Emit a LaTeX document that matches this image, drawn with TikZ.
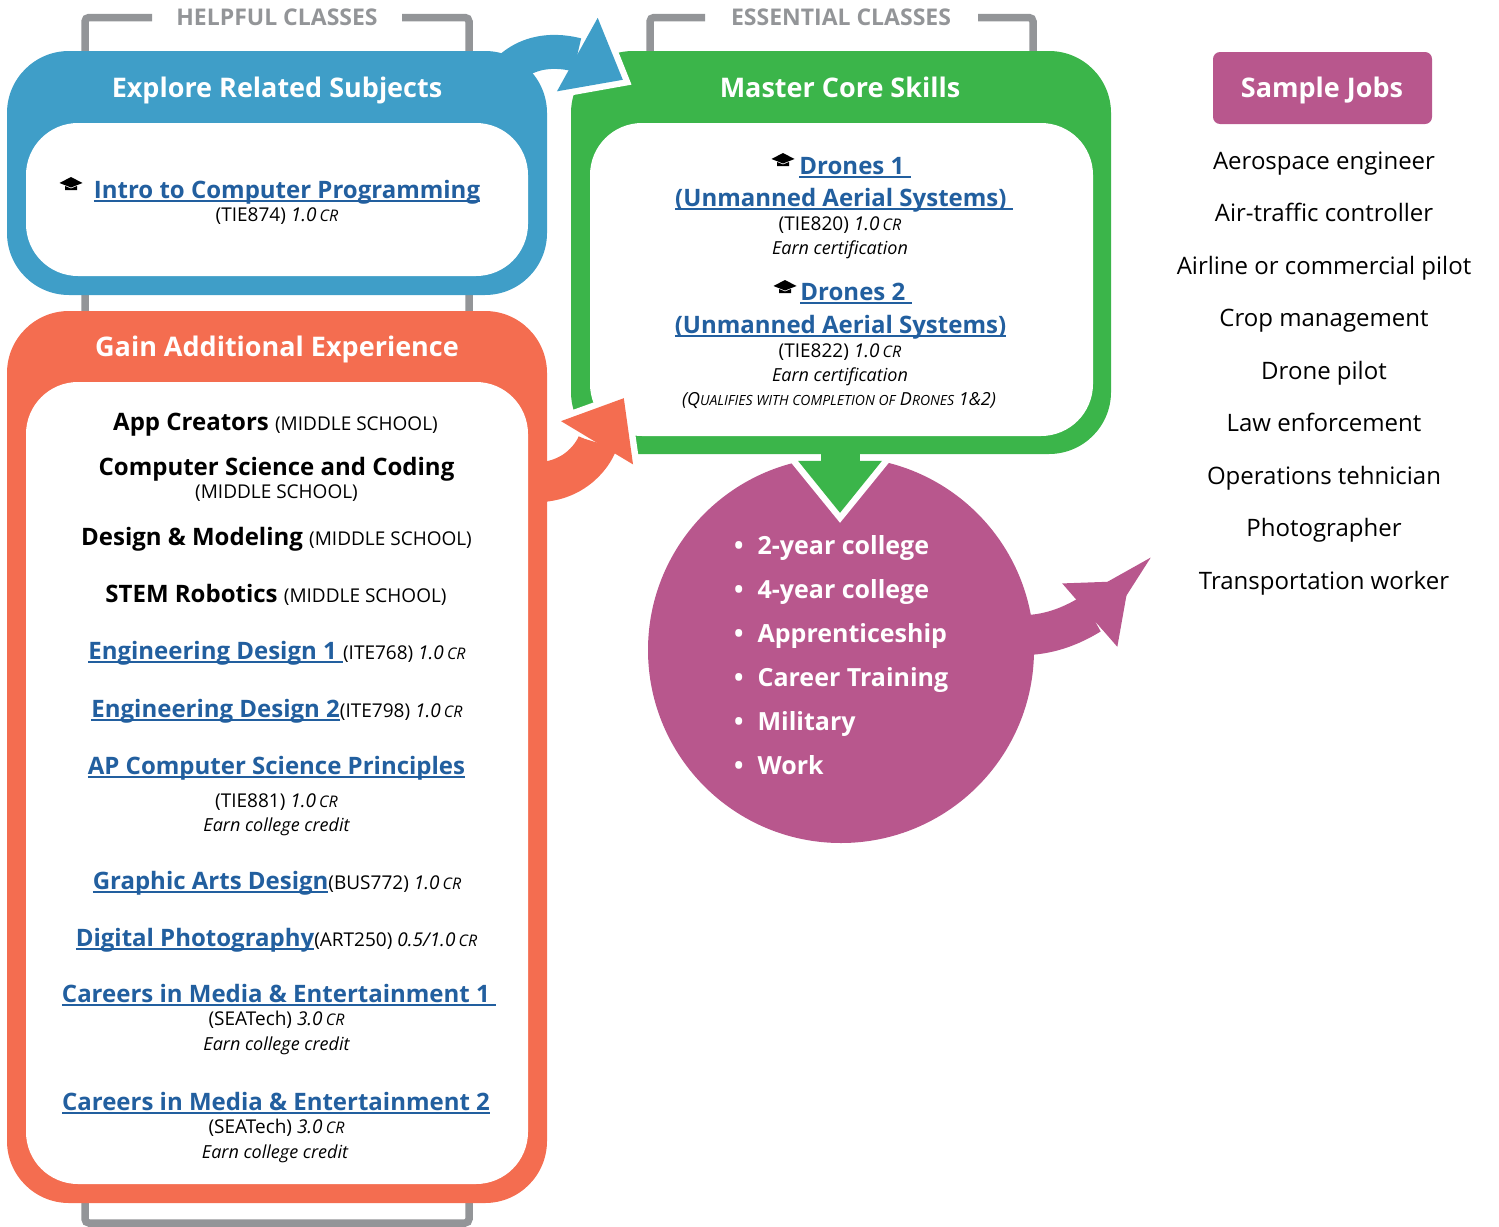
\documentclass[tikz,border=0pt]{standalone}
\usepackage{fontspec}
\setmainfont{Open Sans}
\usetikzlibrary{arrows.meta}

\definecolor{exploreblue}{HTML}{3F9EC8}
\definecolor{coregreen}{HTML}{3BB54A}
\definecolor{gainorange}{HTML}{F46D50}
\definecolor{pathpurple}{HTML}{B8578D}
\definecolor{bracketgrey}{HTML}{939598}
\definecolor{linkblue}{HTML}{225F9F}

\newcommand{\fs}[1]{\fontsize{#1}{#1}\selectfont}
\newcommand{\courselink}[1]{\setbox0=\hbox{#1}\rlap{\color{linkblue}\rule[-4pt]{\wd0}{1.6pt}}\box0}
\newcommand{\credit}[1]{{\itshape #1\,{\fs{16}CR}}}

\begin{document}
\begin{tikzpicture}
[x=1pt,y=-1pt,
bracket/.style={draw=bracketgrey,line width=7.5pt,rounded corners=4pt},
bracketlabel/.style={anchor=base,inner sep=0pt,text=bracketgrey,font=\fs{23}\bfseries},
ring/.style={rectangle,inner sep=0pt,rounded corners=62pt},
core/.style={rectangle,inner sep=0pt,fill=white,rounded corners=52pt},
title/.style={anchor=base,inner sep=0pt,text=white,font=\fs{27}\bfseries},
course/.style={anchor=base,inner sep=0pt,font=\fs{24}\bfseries,text=linkblue},
plain/.style={anchor=base,inner sep=0pt,font=\fs{24}\bfseries},
small/.style={anchor=base,inner sep=0pt,font=\fs{19}},
note/.style={anchor=base,inner sep=0pt,font=\fs{18}\itshape},
route/.style={anchor=base west,inner sep=0pt,text=white,font=\fs{25}\bfseries},
job/.style={anchor=base,inner sep=0pt,font=\fs{24}},
flow/.style={line width=40pt,-{Triangle[length=52pt,width=84pt,line width=0pt]}},
halo/.style={draw=white,line width=40pt,shorten >=-10pt,-{Triangle[length=67pt,width=109pt,line width=0pt]}},
gradcap/.pic={
  \fill (-11.5,0) -- (0,-6) -- (11.5,0) -- (0,4.5) -- cycle;
  \fill (-6,3) -- (0,5.5) -- (6,3) -- (6,7) -- (-6,7) -- cycle;
}]
\useasboundingbox (0,0) rectangle (1499,1226);

% grey brackets behind the boxes
\node[bracketlabel] at (277,25) (helpfullabel) {HELPFUL CLASSES};
\node[bracketlabel] at (841,25) (essentiallabel) {ESSENTIAL CLASSES};
\draw[bracket] (152,17.5) -- (85,17.5) -- (85,1223) -- (469,1223) -- (469,17.5) -- (402,17.5);
\draw[bracket] (705,17.5) -- (650,17.5) -- (650,70) (1033,70) -- (1033,17.5) -- (978,17.5);

\coordinate (jobstip) at (1129,581);
\node[circle,inner sep=0pt,minimum size=386pt] at (841,650) (pathcircle) {};
\draw[flow,draw=pathpurple] ([xshift=-10pt,yshift=15pt] pathcircle.east) to [out=0,in=221,looseness=0.9] (jobstip);
\node[circle,inner sep=0pt,minimum size=386pt,fill=pathpurple] at (841,650) {};

\node[ring,minimum width=540pt,minimum height=403pt] at (841,252.5) (masterbox) {};
\draw[halo,line width=39pt] ([xshift=-1pt] masterbox.south) -- ([xshift=-1pt,yshift=-56pt] pathcircle.north);
\node[ring,fill=coregreen,minimum width=540pt,minimum height=403pt] at (841,252.5) {};
\node[core,minimum width=503pt,minimum height=313pt] at (841.5,279.5) (masterinner) {};
\draw[flow,line width=39pt,draw=coregreen] ([xshift=-1pt,yshift=2pt] masterbox.south) -- ([xshift=-1pt,yshift=-56pt] pathcircle.north);

\node[ring,minimum width=540pt,minimum height=244pt] at (277,173) (explorebox) {};
\node[ring,minimum width=540pt,minimum height=892pt] at (277,757) (gainbox) {};

\draw[halo,line width=34pt] ([xshift=-40pt,yshift=-20pt] explorebox.north east) to [out=45,in=151] ([xshift=52pt,yshift=-29pt] masterbox.north west);
\draw[halo] ([xshift=-5pt,yshift=275pt] gainbox.east) to [out=5,in=239] ([xshift=53pt,yshift=56pt] masterbox.south west);
\draw[flow,line width=34pt,draw=exploreblue] ([xshift=-40pt,yshift=-20pt] explorebox.north east) to [out=45,in=151] ([xshift=52pt,yshift=-29pt] masterbox.north west);
\draw[flow,draw=gainorange] ([xshift=-5pt,yshift=275pt] gainbox.east) to [out=5,in=239] ([xshift=53pt,yshift=56pt] masterbox.south west);

\node[ring,fill=exploreblue,minimum width=540pt,minimum height=244pt] at (277,173) {};
\node[core,minimum width=502pt,minimum height=153pt] at (277,199.5) (exploreinner) {};
\node[ring,fill=gainorange,minimum width=540pt,minimum height=892pt] at (277,757) {};
\node[core,minimum width=502pt,minimum height=802pt] at (277,783) (gaininner) {};

\node[title] at (277,97) (exploretitle) {Explore Related Subjects};
\node[course] at (287,198) (intro) {\courselink{Intro to Computer Programming}};
\pic at (71,183) {gradcap};
\node[small] at (277,221) (introinfo) {(TIE874) \credit{1.0}};

\node[title] at (840,97) (mastertitle) {Master Core Skills};
\node[course] at (855,174) (drones1) {\courselink{Drones 1\ }};
\pic at (783,159) {gradcap};
\node[course] at (844,206) (drones1b) {\courselink{(Unmanned Aerial Systems)\ }};
\node[small] at (840,230) (drones1info) {(TIE820) \credit{1.0}};
\node[note] at (840,254) (drones1note) {Earn certification};
\node[course] at (856,300) (drones2) {\courselink{Drones 2\ }};
\pic at (785,286) {gradcap};
\node[course] at (840.5,333) (drones2b) {\courselink{(Unmanned Aerial Systems)}};
\node[small] at (840,357) (drones2info) {(TIE822) \credit{1.0}};
\node[note] at (840,381) (drones2note) {Earn certification};
\node[note] at (839,405) (drones2req) {(Q{\fs{14}UALIFIES WITH COMPLETION OF} D{\fs{14}RONES} 1\&2)};

\node[title] at (277,356) (gaintitle) {Gain Additional Experience};
\node[plain] at (275.5,430) (appcreators) {App Creators {\mdseries\fs{19}(MIDDLE SCHOOL)}};
\node[plain] at (276.5,475) (compsci) {Computer Science and Coding};
\node[small] at (276.5,498) (compsciinfo) {(MIDDLE SCHOOL)};
\node[plain] at (276.5,545) (designmodel) {Design \& Modeling {\mdseries\fs{19}(MIDDLE SCHOOL)}};
\node[plain] at (276,602) (robotics) {STEM Robotics {\mdseries\fs{19}(MIDDLE SCHOOL)}};
\node[course] at (277,659) (eng1) {\courselink{Engineering Design 1\ } {\color{black}\mdseries\fs{19}(ITE768) \credit{1.0}}};
\node[course] at (277,717) (eng2) {\courselink{Engineering Design 2} {\color{black}\mdseries\fs{19}(ITE798) \credit{1.0}}};
\node[course] at (276.5,774) (apcsp) {\courselink{AP Computer Science Principles}};
\node[small] at (276.5,807) (apcspinfo) {(TIE881) \credit{1.0}};
\node[note] at (276.5,831) (apcspnote) {Earn college credit};
\node[course] at (277,889) (graphic) {\courselink{Graphic Arts Design} {\color{black}\mdseries\fs{19}(BUS772) \credit{1.0}}};
\node[course] at (276.5,946) (photo) {\courselink{Digital Photography} {\color{black}\mdseries\fs{19}(ART250) \credit{0.5/1.0}}};
\node[course] at (279,1002) (media1) {\courselink{Careers in Media \& Entertainment 1\ }};
\node[small] at (276.5,1025) (media1info) {(SEATech) \credit{3.0}};
\node[note] at (276.5,1050) (media1note) {Earn college credit};
\node[course] at (276,1110) (media2) {\courselink{Careers in Media \& Entertainment 2}};
\node[small] at (276.5,1133) (media2info) {(SEATech) \credit{3.0}};
\node[note] at (275,1158) (media2note) {Earn college credit};

% what comes after, inside the circle
\foreach \route [count=\i] in {2-year college,4-year college,Apprenticeship,Career Training,Military,Work}
  \node[route] at (734,510+44*\i) (route\i) {\textbullet\hspace{14pt}\route};

\node[rectangle,rounded corners=7pt,fill=pathpurple,minimum width=219pt,minimum height=72pt] at (1322.5,88) (jobshead) {};
\node[title] at (1322,97) (jobstitle) {Sample Jobs};
\foreach \jobname [count=\i] in {Aerospace engineer,Air-traffic controller,Airline or commercial pilot,Crop management,Drone pilot,Law enforcement,Operations tehnician,Photographer,Transportation worker}
  \node[job] at (1324,116.5+52.5*\i) (job\i) {\jobname};
\end{tikzpicture}
\end{document}
